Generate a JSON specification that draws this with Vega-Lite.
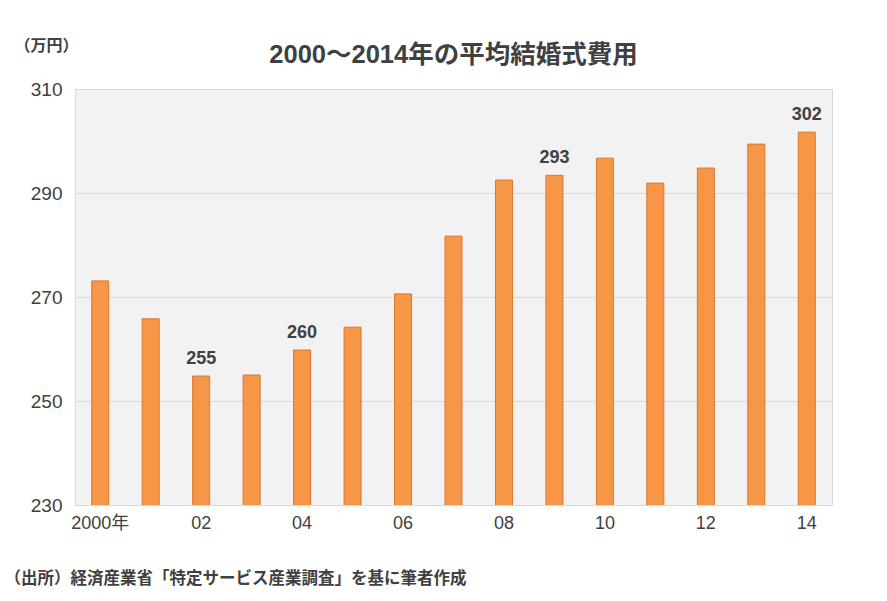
{
  "$schema": "https://vega.github.io/schema/vega-lite/v6.json",
  "autosize": {"type": "none"},
  "width": 757,
  "height": 416,
  "padding": {"left": 75, "top": 89, "right": 55, "bottom": 96},
  "background": "white",
  "title": {
    "text": "2000～2014年の平均結婚式費用",
    "anchor": "middle",
    "frame": "group",
    "fontSize": 25.5,
    "fontWeight": "bold",
    "color": "#404040",
    "font": "Liberation Sans, Noto Sans CJK JP",
    "offset": -31
  },
  "config": {
    "font": "Liberation Sans, Noto Sans CJK JP",
    "view": {"fill": "#f2f2f2", "stroke": "#d9d9d9"}
  },
  "data": {
    "values": [
      {"year": 2000, "cost": 273.1},
      {"year": 2001, "cost": 265.8},
      {"year": 2002, "cost": 254.8},
      {"year": 2003, "cost": 255.0},
      {"year": 2004, "cost": 259.8},
      {"year": 2005, "cost": 264.2},
      {"year": 2006, "cost": 270.6},
      {"year": 2007, "cost": 281.7},
      {"year": 2008, "cost": 292.5},
      {"year": 2009, "cost": 293.4},
      {"year": 2010, "cost": 296.7},
      {"year": 2011, "cost": 291.9},
      {"year": 2012, "cost": 294.8},
      {"year": 2013, "cost": 299.4},
      {"year": 2014, "cost": 301.7}
    ]
  },
  "encoding": {
    "x": {
      "field": "year",
      "type": "ordinal",
      "scale": {"paddingInner": 0, "paddingOuter": 0},
      "axis": {
        "labelExpr": "datum.value == 2000 ? '2000年' : (datum.value % 2 == 0 ? slice(toString(datum.value), 2) : '')",
        "labelAngle": 0,
        "labelFontSize": 18,
        "labelColor": "#404040",
        "labelPadding": 9,
        "ticks": false,
        "domain": false,
        "title": "（出所）経済産業省「特定サービス産業調査」を基に筆者作成",
        "titleFont": "Noto Sans CJK JP",
        "titleFontSize": 16.5,
        "titleFontWeight": "bold",
        "titleColor": "#404040",
        "titleAnchor": "start",
        "titleAlign": "left",
        "titleBaseline": "middle",
        "titleX": -71,
        "titleY": 73
      }
    },
    "y": {
      "field": "cost",
      "type": "quantitative",
      "scale": {"domain": [230, 310], "zero": false},
      "axis": {
        "values": [230, 250, 270, 290, 310],
        "labelFontSize": 19,
        "labelColor": "#404040",
        "labelPadding": 13,
        "ticks": false,
        "domain": false,
        "gridColor": "#d9d9d9",
        "title": "（万円）",
        "titleFont": "Noto Sans CJK JP",
        "titleAngle": 0,
        "titleFontSize": 16,
        "titleFontWeight": "bold",
        "titleColor": "#404040",
        "titleAlign": "left",
        "titleBaseline": "middle",
        "titleX": -61,
        "titleY": -44
      }
    }
  },
  "layer": [
    {
      "mark": {"type": "bar", "width": 17, "clip": true, "color": "#f79646", "stroke": "#d9772f", "strokeWidth": 1}
    },
    {
      "transform": [{"filter": "datum.year == 2002 || datum.year == 2004 || datum.year == 2009 || datum.year == 2014"}],
      "mark": {"type": "text", "baseline": "alphabetic", "dy": -12, "fontSize": 18, "fontWeight": "bold", "color": "#404040"},
      "encoding": {"text": {"field": "cost", "type": "quantitative", "format": ".0f"}}
    }
  ]
}
